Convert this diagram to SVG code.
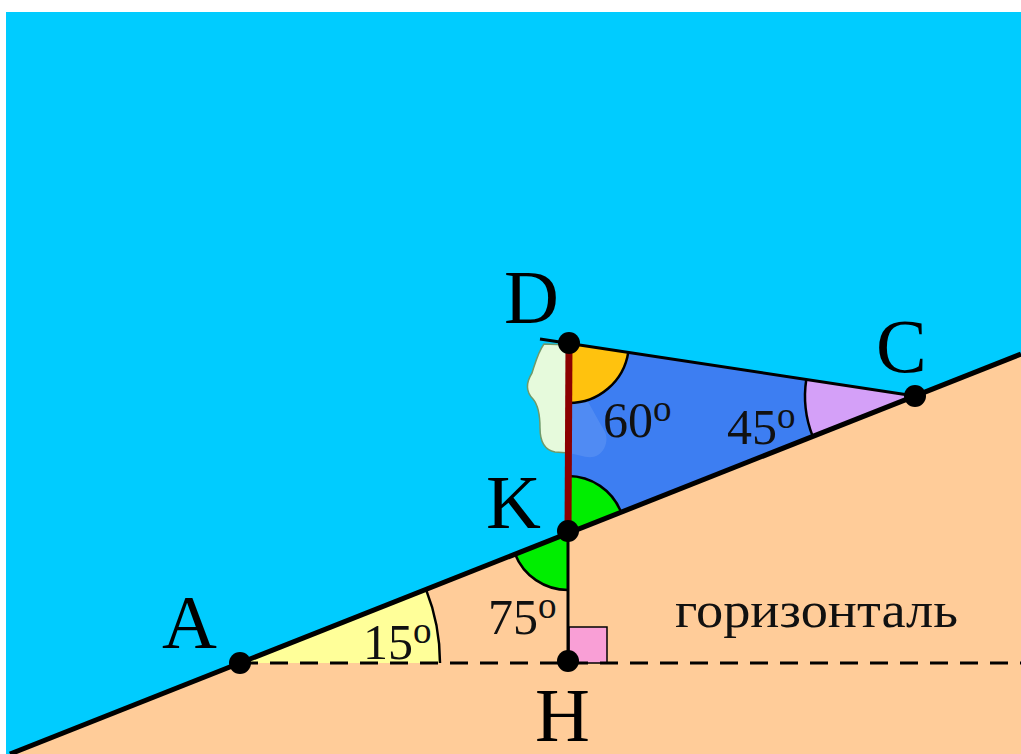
<svg xmlns="http://www.w3.org/2000/svg" xmlns:xlink="http://www.w3.org/1999/xlink" width="1021" height="754" viewBox="0 0 1021 754">
<style>
.lbl{font-family:"Liberation Serif","Times New Roman",serif;font-size:76px;fill:#000}
.ang{font-family:"Liberation Serif","Times New Roman",serif;font-size:50px;fill:#111}
.sup{font-size:37px}
.arc{fill:none;stroke:#000;stroke-width:2.5}
.dot{fill:#000}
</style>
<defs>
<path id="blobShape" d="M544,344 C538,352 535,364 532,373 C527,381 525,391 533,399 C539,406 540,416 540,428 C540,440 544,450 555,452 L569,453 C580,455 590,460 598,455 C606,450 609,438 604,430 C595,415 585,395 575,380 L569,345 Z"/>
<clipPath id="triClip"><polygon points="569,343 915,396 568,533"/></clipPath>
</defs>
<rect x="0" y="0" width="1021" height="754" fill="#fff"/>
<rect id="sky" x="6" y="12" width="1015" height="742" fill="#00ccff"/>
<polygon id="ground" points="10,754 1021,354 1021,754" fill="#ffcc99"/>
<g id="blob">
<use xlink:href="#blobShape" fill="#e6fadc" stroke="#6f9a6a" stroke-width="1.5"/>
</g>
<g id="triangle">
<polygon points="569,343 915,396 568,533" fill="#3d7ef2"/>
<use xlink:href="#blobShape" fill="#ffffff" fill-opacity="0.1" clip-path="url(#triClip)"/>
</g>
<g id="angles">
<path d="M240,663 L440,663 A200,200 0 0 0 426,589.4 Z" fill="#ffff99"/>
<path class="arc" d="M440,663 A200,200 0 0 0 426,589.4"/>
<path d="M915,396 L806.3,379.3 A110,110 0 0 0 812.7,436.4 Z" fill="#d4a0f8"/>
<path class="arc" d="M806.3,379.3 A110,110 0 0 0 812.7,436.4"/>
<path d="M569,343 L569,403 A60,60 0 0 0 628.3,352.1 Z" fill="#ffc20e"/>
<path class="arc" d="M569,403 A60,60 0 0 0 628.3,352.1"/>
<path d="M568,533 L568,476 A57,57 0 0 1 621,512 Z" fill="#00ee00"/>
<path class="arc" d="M568,476 A57,57 0 0 1 621,512"/>
<path d="M568,533 L515,554 A57,57 0 0 0 568,590 Z" fill="#00ee00"/>
<path class="arc" d="M515,554 A57,57 0 0 0 568,590"/>
<rect x="569" y="627" width="38" height="36" fill="#f99fd6" stroke="#000" stroke-width="1.5"/>
</g>
<g id="connectors">
<line x1="240" y1="663" x2="1021" y2="663" stroke="#000" stroke-width="3" stroke-dasharray="18,12"/>
<line x1="10" y1="754" x2="1021" y2="354" stroke="#000" stroke-width="5"/>
<line x1="540" y1="339" x2="915" y2="396" stroke="#000" stroke-width="3"/>
<line x1="568" y1="533" x2="568" y2="663" stroke="#000" stroke-width="3"/>
<line x1="569" y1="343" x2="568" y2="533" stroke="#8b0000" stroke-width="7"/>
</g>
<g id="pointA"><circle class="dot" cx="240" cy="663" r="11"/><text class="lbl" x="162" y="648">A</text></g>
<g id="pointK"><circle class="dot" cx="568" cy="531" r="11"/><text class="lbl" x="486" y="528">K</text></g>
<g id="pointD"><circle class="dot" cx="569" cy="343" r="11"/><text class="lbl" x="504" y="323">D</text></g>
<g id="pointC"><circle class="dot" cx="915" cy="396" r="11"/><text class="lbl" x="876" y="372">C</text></g>
<g id="pointH"><circle class="dot" cx="568" cy="661" r="11"/><text class="lbl" x="535" y="741">H</text></g>
<g id="labels">
<text class="ang" x="603" y="437">60<tspan class="sup" dy="-16">o</tspan></text>
<text class="ang" x="727" y="444">45<tspan class="sup" dy="-16">o</tspan></text>
<text class="ang" x="363" y="659">15<tspan class="sup" dy="-16">o</tspan></text>
<text class="ang" x="488" y="634">75<tspan class="sup" dy="-16">o</tspan></text>
<text class="ang" x="675" y="627" textLength="283" lengthAdjust="spacingAndGlyphs">горизонталь</text>
</g>
</svg>
